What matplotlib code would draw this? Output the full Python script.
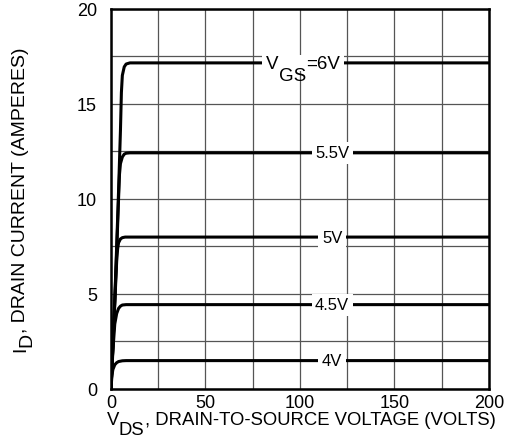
import matplotlib
matplotlib.use("Agg")
import matplotlib.pyplot as plt
from matplotlib.patches import Rectangle
from matplotlib.ticker import MultipleLocator
from matplotlib.transforms import Bbox, IdentityTransform

plt.rcParams["font.family"] = ["Liberation Sans", "DejaVu Sans"]

# output characteristics
vds_4v = [0, 0.5, 1, 2, 3, 4, 6, 8, 200]
id_4v = [0, 0.7, 1.0, 1.25, 1.36, 1.42, 1.46, 1.47, 1.47]

vds_45v = [0, 1, 2, 3, 4, 5, 6, 8, 200]
id_45v = [0, 2.0, 3.4, 3.95, 4.22, 4.34, 4.4, 4.42, 4.42]

vds_5v = [0, 1, 2, 3, 3.5, 4, 5, 6, 7.5, 200]
id_5v = [0, 2.2, 4.5, 6.7, 7.35, 7.68, 7.88, 7.95, 7.98, 7.98]

vds_55v = [0, 1, 2, 3, 4, 4.5, 5, 6, 7, 8, 10, 200]
id_55v = [0, 2.2, 4.6, 7.2, 10.0, 11.3, 11.85, 12.2, 12.35, 12.4, 12.42, 12.42]

vds_6v = [0, 1, 2, 3, 4, 5, 5.5, 6, 7, 8, 10, 200]
id_6v = [0, 2.3, 4.7, 7.5, 10.4, 13.6, 15.6, 16.5, 16.95, 17.1, 17.16, 17.16]

curves = [
    (vds_4v, id_4v, "4V", 117),
    (vds_45v, id_45v, "4.5V", 117),
    (vds_5v, id_5v, "5V", 117),
    (vds_55v, id_55v, "5.5V", 117),
]

W, H = 506, 439
fig = plt.figure(figsize=(W / 100, H / 100), dpi=100)
ax = fig.add_axes([111 / W, 1 - 389.5 / H, 378 / W, 379.5 / H])


def rich_text(xc, yb, pieces, size, drop, rotation=0):
    # lay out text pieces one after another, subscripts lowered by `drop` px
    renderer = fig.canvas.get_renderer()
    items = []
    total = 0
    for s, is_sub in pieces:
        t = fig.text(0, 0, s, fontsize=size, rotation=rotation, ha="left",
                     va="baseline", rotation_mode="anchor",
                     transform=IdentityTransform(), zorder=4)
        bb = t.get_window_extent(renderer)
        adv = bb.width if rotation == 0 else bb.height
        items.append((t, adv, is_sub))
        total += adv
    pos = -total / 2
    for t, adv, is_sub in items:
        d = drop if is_sub else 0
        if rotation == 0:
            t.set_position((xc + pos, yb - d))
        else:
            t.set_position((xc + d, yb + pos))
        pos += adv
    return Bbox.union([t.get_window_extent(renderer) for t, _, _ in items])


ax.set_xlim(0, 200)
ax.set_ylim(0, 20)
ax.xaxis.set_major_locator(MultipleLocator(50))
ax.xaxis.set_minor_locator(MultipleLocator(25))
ax.yaxis.set_major_locator(MultipleLocator(5))
ax.yaxis.set_minor_locator(MultipleLocator(2.5))
ax.grid(which="both", color="#555555", linewidth=0.9)
ax.set_axisbelow(True)
ax.tick_params(which="both", length=0, labelsize=13)
ax.tick_params(axis="y", pad=10)
ax.tick_params(axis="x", pad=4)

for spine in ax.spines.values():
    spine.set_linewidth(1.8)
    spine.set_zorder(5)

for x, y, lab, xlab in curves:
    ax.plot(x, y, color="black", linewidth=2.2, solid_joinstyle="round",
            solid_capstyle="round", zorder=3)
    ax.text(xlab, y[-1], lab, ha="center", va="center", fontsize=12,
            zorder=4,
            bbox=dict(facecolor="white", edgecolor="none", pad=2.5))

ax.plot(vds_6v, id_6v, color="black", linewidth=2.2, solid_joinstyle="round",
        solid_capstyle="round", zorder=3)

fig.canvas.draw()
px, py = ax.transData.transform((100, id_6v[-1]))
bb = rich_text(px + 3, py - 5, [("V", False), ("GS", True), ("=6V", False)],
               13.5, 12)
fig.patches.append(Rectangle((bb.x0 - 4, py - 8), bb.width + 8, 16,
                             facecolor="white", edgecolor="none",
                             transform=IdentityTransform(), zorder=3.5))

rich_text(301, 14, [("V", False), ("DS", True),
                    (", DRAIN-TO-SOURCE VOLTAGE (VOLTS)", False)], 13.3, 10)
rich_text(25, 239, [("I", False), ("D", True),
                    (", DRAIN CURRENT (AMPERES)", False)], 14, 6, rotation=90)

fig.savefig("out.png", dpi=100)
